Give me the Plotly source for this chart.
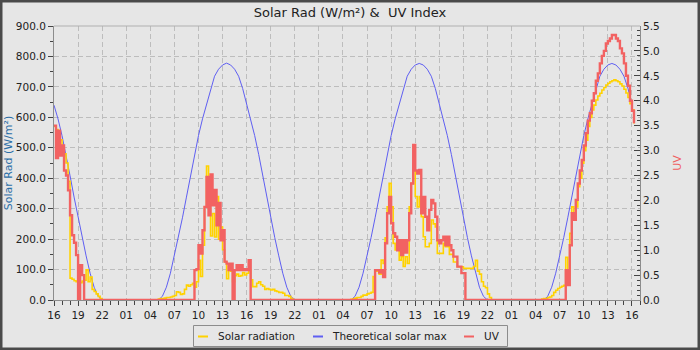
import plotly.graph_objects as go
import pandas as pd

# ---------------- data (hour offsets from 16:00 on day 1) ----------------
BASE = pd.Timestamp("2024-06-20 16:00")
STEP = 0.25  # 15-minute samples for measured series

# Solar radiation (W/m²), segments: (start hour, values every 15 min)
solar_a_start = 0.0
solar_a = [570, 560, 545, 526, 500, 480, 450, 390, 72, 68, 63, 60, 57, 57, 62, 65,
           99, 60, 75, 35, 28, 20, 12, 5, 0]
solar_b_start = 12.75
solar_b = [0, 3, 5, 5, 6, 8, 8, 10, 12, 15, 27, 25, 18, 20, 35, 49, 45, 50, 55, 42,
           60, 130, 77, 180, 306, 440, 300, 210, 284, 207, 340, 200, 240, 165, 125, 70,
           110, 95, 60, 80, 85, 78, 80, 90, 82, 88, 99, 66, 44, 44, 55, 60, 50, 45, 35,
           38, 35, 33, 35, 30, 28, 25, 25, 22, 15, 15, 12, 5, 0]
solar_c_start = 36.75
solar_c = [0, 2, 4, 6, 8, 8, 12, 16, 16, 20, 22, 25, 77, 95, 99, 85, 131, 120, 204, 306,
           383, 306, 186, 164, 175, 131, 142, 110, 142, 120, 306, 383, 449, 340, 306, 340,
           274, 208, 175, 175, 186, 263, 250, 240, 153, 153, 153, 186, 175, 175, 150, 150,
           125, 125, 109, 109, 109, 104, 104, 104, 104, 104, 110, 130, 95, 85, 60, 45, 40,
           20, 8, 0]
solar_d_start = 60.5
solar_d = [0, 3, 5, 5, 8, 10, 15, 25, 32, 38, 42, 45, 48, 140, 80, 219, 306, 274, 306,
           372, 400, 449, 490, 525, 570, 600, 624, 640, 657, 670, 679, 690, 698, 706, 712,
           717, 720, 723, 720, 717, 710, 703, 692, 680, 665, 645, 625, 580]

# UV index, segments: (start hour, values every 15 min)
uv_a_start = 0.0
uv_a = [3.5, 2.85, 3.4, 2.9, 3.1, 2.6, 2.5, 2.2, 1.7, 1.3, 1.15, 0.9, 0, 0.7, 0.5, 0]
uv_b_start = 17.25
uv_b = [0, 0.6, 0.62, 1.1, 0.93, 1.4, 1.87, 2.47, 1.7, 2.52, 1.9, 2.21, 1.5, 1.95, 1.2,
        1.4, 0.77, 0.73, 0.6, 0.73, 0, 0.6, 0.7, 0.6, 0.7, 0.6, 0.62, 0.6, 0.8, 0]
uv_c_start = 39.75
uv_c = [0, 0.6, 0.6, 0.55, 0.6, 0.46, 1.14, 1.74, 2.07, 1.54, 1.34, 1.27, 1.0, 1.2, 0.9,
        1.2, 0.95, 1.2, 1.74, 2.34, 3.11, 2.6, 2.54, 2.61, 1.74, 2.07, 1.67, 1.4, 1.81,
        2.01, 1.94, 1.67, 1.2, 1.14, 1.2, 1.27, 1.1, 1.27, 1.1, 1.0, 0.87, 0.87, 0.67,
        0.67, 0.54, 0.54, 0]
uv_d_start = 63.5
uv_d = [0, 0.6, 0.3, 1.1, 1.74, 1.61, 2.01, 2.34, 2.6, 2.81, 3.1, 3.35, 3.6, 3.75, 4.0,
        4.15, 4.4, 4.55, 4.75, 4.9, 5.0, 5.15, 5.2, 5.25, 5.32, 5.32, 5.25, 5.2, 5.05,
        4.95, 4.75, 4.5, 4.3, 4.0, 3.8, 3.55]

# Theoretical solar max (W/m²), every 30 min from hour 0 to hour 72
max_start = 0.0
max_step = 0.5
max_solar = [640, 595, 540, 478, 408, 338, 270, 205, 145, 88, 42, 12, 0,
             0, 0, 0, 0, 0, 0, 0, 0, 0, 0, 0, 0, 0, 0,
             12, 42, 88, 145, 205, 270, 338, 408, 478, 540, 595, 642, 695, 735, 758, 772,
             778,
             772, 758, 735, 695, 642, 595, 540, 478, 408, 338, 270, 205, 145, 88, 42, 12, 0,
             0, 0, 0, 0, 0, 0, 0, 0, 0, 0, 0, 0, 0, 0,
             12, 42, 88, 145, 205, 270, 338, 408, 478, 540, 595, 642, 695, 735, 758, 772,
             777,
             772, 758, 735, 695, 642, 595, 540, 478, 408, 338, 270, 205, 145, 88, 42, 12, 0,
             0, 0, 0, 0, 0, 0, 0, 0, 0, 0, 0, 0, 0, 0,
             12, 42, 88, 145, 205, 270, 338, 408, 478, 540, 595, 642, 695, 735, 758, 772,
             777,
             772, 758, 735, 695, 642]

series_names = ["Solar radiation", "Theoretical solar max", "UV"]

X_END_HOURS = 73
TICK_HOURS = 3

# ---------------- helpers ----------------
def to_time(h):
    return BASE + pd.Timedelta(hours=h)

def build(segments):
    xs, ys = [], []
    for start, vals in segments:
        for i, v in enumerate(vals):
            xs.append(to_time(start + STEP * i))
            ys.append(v)
    return xs, ys

solar_x, solar_y = build([(solar_a_start, solar_a), (solar_b_start, solar_b),
                          (solar_c_start, solar_c), (solar_d_start, solar_d)])
uv_x, uv_y = build([(uv_a_start, uv_a), (uv_b_start, uv_b),
                    (uv_c_start, uv_c), (uv_d_start, uv_d)])
max_x = [to_time(max_start + max_step * i) for i in range(len(max_solar))]

YELLOW = "#ffd200"
BLUE = "#5f5ff2"
RED = "#f26262"
BG = "#e6e6e6"
FONT = "DejaVu Sans"
TXT = "#222222"

fig = go.Figure()

fig.add_trace(go.Scatter(x=uv_x, y=uv_y, yaxis="y2", mode="lines", name=series_names[2],
                         line=dict(color=RED, width=2.4, shape="hv"),
                         showlegend=False, hoverinfo="skip"))
fig.add_trace(go.Scatter(x=max_x, y=max_solar, mode="lines", name=series_names[1],
                         line=dict(color=BLUE, width=1),
                         showlegend=False, hoverinfo="skip"))
fig.add_trace(go.Scatter(x=solar_x, y=solar_y, mode="lines", name=series_names[0],
                         line=dict(color=YELLOW, width=1.6, shape="hv"),
                         showlegend=False, hoverinfo="skip"))

L, R, T, B = 54, 60, 26, 50
W, H = 700, 350
pw, ph = W - L - R, H - T - B

def px(x):
    return (x - L) / pw

def py(y):
    return (H - B - y) / ph

# ---- legend drawn as box + short line samples + text ----
shapes = [
    dict(type="line", xref="paper", yref="paper", x0=0, x1=1, y0=1, y1=1,
         line=dict(color="#b0b0b0", width=1)),
    dict(type="rect", xref="paper", yref="paper",
         x0=px(193.5), x1=px(507.5), y0=py(346.5), y1=py(325.5),
         line=dict(color="#8c8c8c", width=1), fillcolor=BG),
    dict(type="rect", xref="paper", yref="paper",
         x0=-L / pw, x1=(W - L) / pw, y0=-B / ph, y1=(H - B) / ph,
         line=dict(color="#4a4a4a", width=5), fillcolor="rgba(0,0,0,0)", layer="above"),
]
annotations = []
legend_sym_x = [198, 313, 464]
legend_txt_x = [217, 331, 483]
for name, col, sx, tx in zip(series_names, [YELLOW, BLUE, RED], legend_sym_x, legend_txt_x):
    shapes.append(dict(type="line", xref="paper", yref="paper",
                       x0=px(sx), x1=px(sx + 10), y0=py(336.5), y1=py(336.5),
                       line=dict(color=col, width=2)))
    annotations.append(dict(text=name, xref="paper", yref="paper", x=px(tx), y=py(336),
                            xanchor="left", yanchor="middle", showarrow=False,
                            borderpad=0, font=dict(family=FONT, size=10.5, color=TXT)))

fig.update_layout(
    width=W, height=H,
    margin=dict(l=L, r=R, t=T, b=B, autoexpand=False),
    paper_bgcolor=BG, plot_bgcolor=BG,
    font=dict(family=FONT, size=10.5, color=TXT),
    title=dict(text="Solar Rad (W/m²) &\u00a0 UV Index", x=0.5, xanchor="center",
               y=1 - 12 / H, yanchor="middle", yref="container",
               font=dict(family=FONT, size=13, color=TXT)),
    showlegend=False,
    xaxis=dict(
        type="date",
        range=[to_time(0), to_time(X_END_HOURS)],
        tick0=to_time(0), dtick=TICK_HOURS * 3600 * 1000, tickformat="%H",
        ticks="outside", ticklen=5, tickcolor="#444444",
        showline=True, linecolor="#8c8c8c", linewidth=1,
        showgrid=True, gridcolor="#bdbdbd", griddash="5px,3px", gridwidth=1,
        zeroline=False, automargin=False,
        minor=dict(dtick=3600 * 1000, tick0=to_time(0), ticks="outside", ticklen=4,
                   tickcolor="#444444", showgrid=False),
        tickfont=dict(family=FONT, size=10.5, color=TXT),
        fixedrange=True,
    ),
    yaxis=dict(
        range=[0, 900], dtick=100, tick0=0, tickformat=".1f",
        ticks="outside", ticklen=5, tickcolor="#444444",
        showline=True, linecolor="#8c8c8c", linewidth=1,
        showgrid=True, gridcolor="#bdbdbd", griddash="5px,3px", gridwidth=1,
        zeroline=False, automargin=False,
        minor=dict(dtick=50, ticks="outside", ticklen=3, tickcolor="#444444", showgrid=False),
        title=dict(text="Solar Rad (W/m²)", standoff=0,
                   font=dict(family=FONT, size=11, color="#2a6ea6")),
        tickfont=dict(family=FONT, size=10.5, color=TXT),
        fixedrange=True,
    ),
    yaxis2=dict(
        overlaying="y", side="right",
        range=[0, 5.5], dtick=0.5, tick0=0, tickformat=".1f",
        ticks="inside", ticklen=6, tickcolor="#444444",
        showline=True, linecolor="#8c8c8c", linewidth=1,
        showgrid=False, zeroline=False, automargin=False,
        minor=dict(dtick=0.1, ticks="inside", ticklen=3, tickcolor="#444444"),
        title=dict(text="UV", standoff=14,
                   font=dict(family=FONT, size=11, color="#f06060")),
        tickfont=dict(family=FONT, size=10.5, color=TXT),
        fixedrange=True,
    ),
    shapes=shapes,
    annotations=annotations,
)

fig.write_html("out.html", config={"displayModeBar": False})
